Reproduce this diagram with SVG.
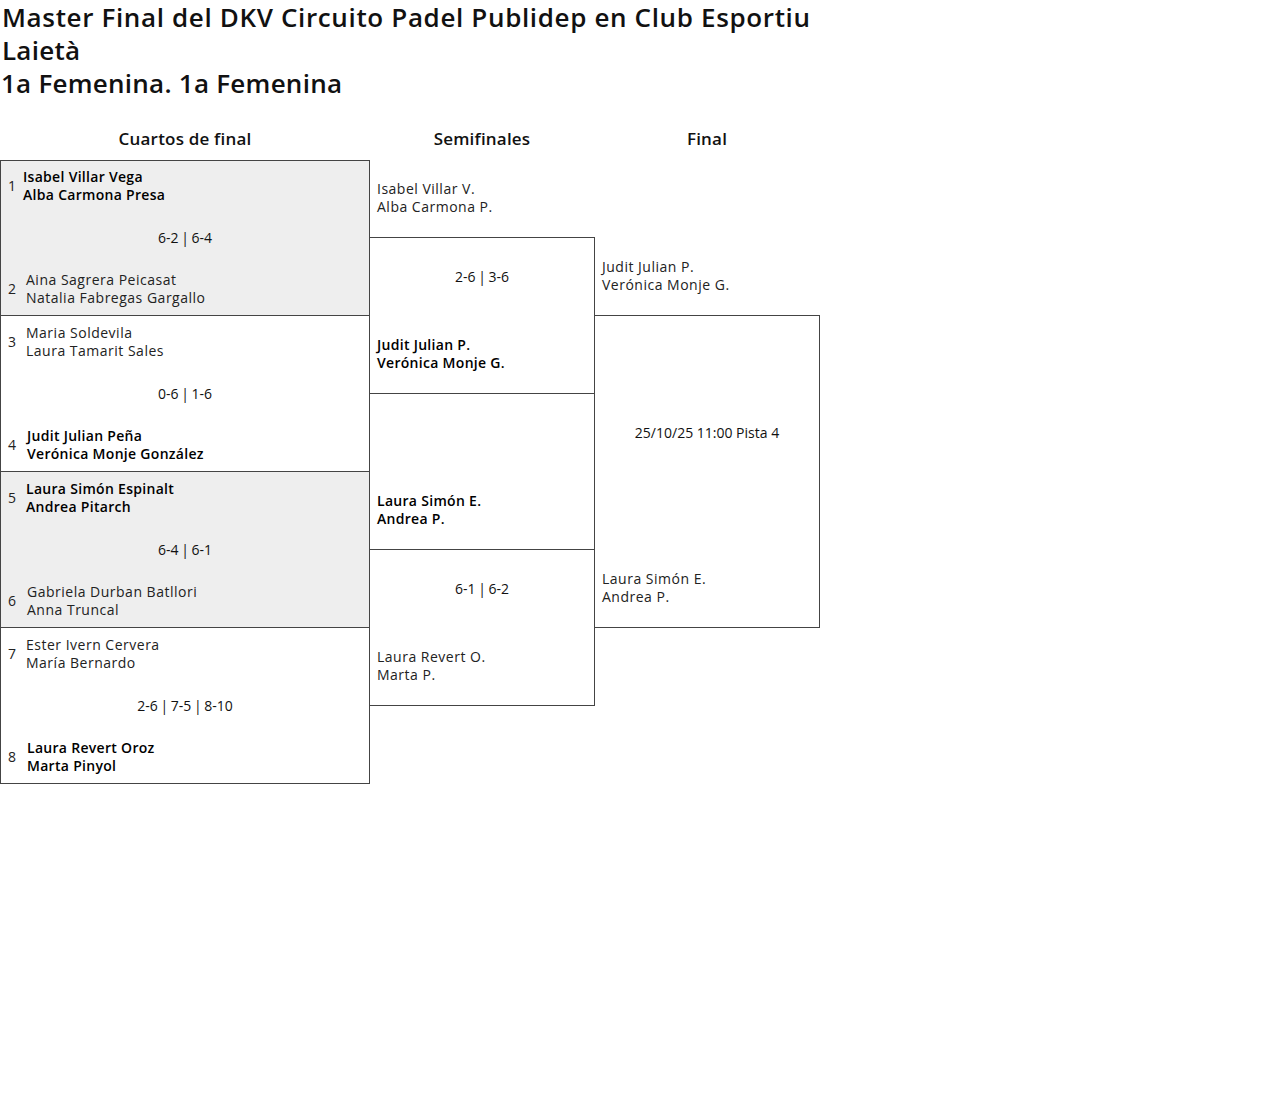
<svg xmlns="http://www.w3.org/2000/svg" width="1280" height="1114" viewBox="0 0 1280 1114">
<style>
text{font-family:"Open Sans","Noto Sans","Liberation Sans",sans-serif;}
.title{font-size:26px;font-weight:600;fill:#111;}
.hdr{font-size:17px;font-weight:600;fill:#111;text-anchor:middle;letter-spacing:0.2px;}
.box{fill:#fff;stroke:#444;stroke-width:1;}
.shade{fill:#eeeeee;}
.seed{font-size:14px;font-weight:400;fill:#222;}
.w{font-size:14px;font-weight:600;fill:#000;letter-spacing:0.3px;}
.l{font-size:14px;font-weight:400;fill:#222;letter-spacing:0.5px;}
.sc{font-size:14px;font-weight:400;fill:#111;text-anchor:middle;word-spacing:-1px;}
.dt{font-size:14px;font-weight:400;fill:#111;text-anchor:middle;}
</style>
<rect width="1280" height="1114" fill="#fff"/>
<g id="title">
<text class="title" x="2" y="27" textLength="808">Master Final del DKV Circuito Padel Publidep en Club Esportiu</text>
<text class="title" x="2" y="60" textLength="78">Laietà</text>
<text class="title" x="1" y="93" textLength="341">1a Femenina. 1a Femenina</text>
</g>
<g id="headers">
<text class="hdr" x="185" y="145">Cuartos de final</text>
<text class="hdr" x="482" y="145">Semifinales</text>
<text class="hdr" x="707" y="145">Final</text>
</g>
<g id="q1">
<rect class="box shade" x="0.5" y="160.5" width="369" height="155"/>
<text class="seed" x="8" y="191">1</text>
<text class="w" x="23" y="182">Isabel Villar Vega</text>
<text class="w" x="23" y="200">Alba Carmona Presa</text>
<text class="sc" x="185" y="243">6-2 | 6-4</text>
<text class="seed" x="8" y="294">2</text>
<text class="l" x="26" y="285">Aina Sagrera Peicasat</text>
<text class="l" x="26" y="303">Natalia Fabregas Gargallo</text>
</g>
<g id="q2">
<rect class="box" x="0.5" y="315.5" width="369" height="156"/>
<text class="seed" x="8" y="347">3</text>
<text class="l" x="26" y="338">Maria Soldevila</text>
<text class="l" x="26" y="356">Laura Tamarit Sales</text>
<text class="sc" x="185" y="399">0-6 | 1-6</text>
<text class="seed" x="8" y="450">4</text>
<text class="w" x="27" y="441">Judit Julian Peña</text>
<text class="w" x="27" y="459">Verónica Monje González</text>
</g>
<g id="q3">
<rect class="box shade" x="0.5" y="471.5" width="369" height="156"/>
<text class="seed" x="8" y="503">5</text>
<text class="w" x="26" y="494">Laura Simón Espinalt</text>
<text class="w" x="26" y="512">Andrea Pitarch</text>
<text class="sc" x="185" y="555">6-4 | 6-1</text>
<text class="seed" x="8" y="606">6</text>
<text class="l" x="27" y="597">Gabriela Durban Batllori</text>
<text class="l" x="27" y="615">Anna Truncal</text>
</g>
<g id="q4">
<rect class="box" x="0.5" y="627.5" width="369" height="156"/>
<text class="seed" x="8" y="659">7</text>
<text class="l" x="26" y="650">Ester Ivern Cervera</text>
<text class="l" x="26" y="668">María Bernardo</text>
<text class="sc" x="185" y="711">2-6 | 7-5 | 8-10</text>
<text class="seed" x="8" y="762">8</text>
<text class="w" x="27" y="753">Laura Revert Oroz</text>
<text class="w" x="27" y="771">Marta Pinyol</text>
</g>
<g id="s1">
<rect class="box" x="369.5" y="237.5" width="225" height="156"/>
<text class="l" x="377" y="194">Isabel Villar V.</text>
<text class="l" x="377" y="212">Alba Carmona P.</text>
<text class="sc" x="482" y="282">2-6 | 3-6</text>
<text class="w" x="377" y="350">Judit Julian P.</text>
<text class="w" x="377" y="368">Verónica Monje G.</text>
</g>
<g id="s2">
<rect class="box" x="369.5" y="549.5" width="225" height="156"/>
<text class="w" x="377" y="506">Laura Simón E.</text>
<text class="w" x="377" y="524">Andrea P.</text>
<text class="sc" x="482" y="594">6-1 | 6-2</text>
<text class="l" x="377" y="662">Laura Revert O.</text>
<text class="l" x="377" y="680">Marta P.</text>
</g>
<g id="f1">
<rect class="box" x="594.5" y="315.5" width="225" height="312"/>
<text class="l" x="602" y="272">Judit Julian P.</text>
<text class="l" x="602" y="290">Verónica Monje G.</text>
<text class="dt" x="707" y="438">25/10/25 11:00 Pista 4</text>
<text class="l" x="602" y="584">Laura Simón E.</text>
<text class="l" x="602" y="602">Andrea P.</text>
</g>
</svg>
